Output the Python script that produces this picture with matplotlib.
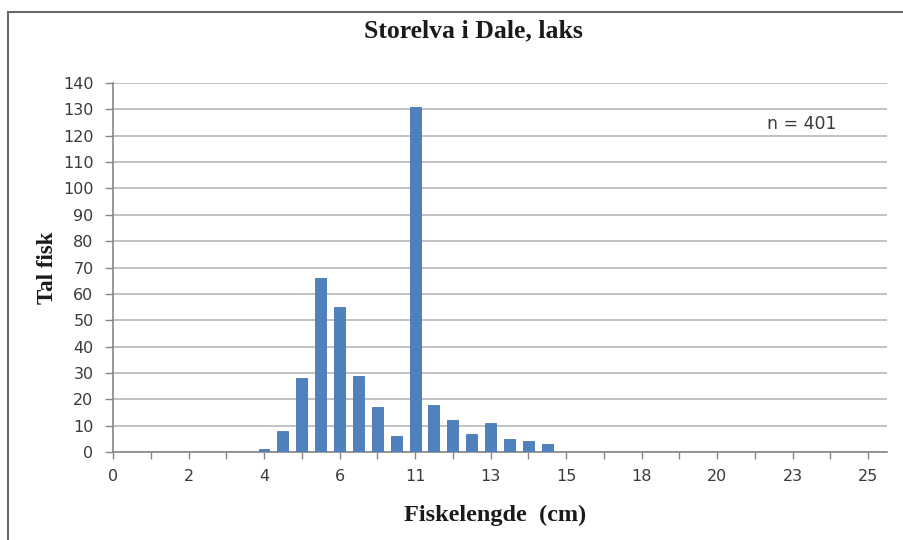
import numpy as np
import matplotlib.pyplot as plt
from matplotlib.patches import Rectangle

# ---------- data ----------
# one count per length class on the category axis (42 classes)
counts = [0, 0, 0, 0, 0, 0, 0, 0,
          1, 8, 28, 66, 55, 29, 17, 6,
          131, 18, 12, 7, 11, 5, 4, 3,
          0, 0, 0, 0, 0, 0, 0, 0,
          0, 0, 0, 0, 0, 0, 0, 0,
          0, 0]
tick_labels = ["0", "2", "4", "6", "11", "13", "15", "18", "20", "23", "25"]
y_ticks = list(range(0, 141, 10))
n_text = "n = 401"

# ---------- theme ----------
BAR_CLR = "#4f81bd"
GRID_CLR = "#b0b0b0"
AXIS_CLR = "#868686"
TXT_CLR = "#3a3a3a"
SERIF = "Liberation Serif"
SANS = "DejaVu Sans"

fig = plt.figure(figsize=(9.04, 5.4), dpi=100)
ax = fig.add_axes([113/904, 1-452/540, (887-113)/904, (452-83)/540])

x = np.arange(len(counts))
ax.bar(x, counts, width=0.58, color=BAR_CLR, edgecolor="#4577b3", linewidth=0.6, zorder=3)

ax.set_xlim(0, len(counts) - 1)
ax.set_ylim(0, 140)

# category axis: tick every 2 classes, label every 4
ax.set_xticks(x[::2], minor=True)
ax.set_xticks(x[::4][:len(tick_labels)])
ax.set_xticklabels(tick_labels)
ax.set_yticks(y_ticks)

ax.grid(axis="y", color=GRID_CLR, linewidth=1.1, zorder=0)
ax.set_axisbelow(True)
for side in ["top", "right"]:
    ax.spines[side].set_visible(False)
for side in ["left", "bottom"]:
    ax.spines[side].set_color(AXIS_CLR)
    ax.spines[side].set_linewidth(1.2)

ax.tick_params(axis="y", which="major", length=6, width=1, color=AXIS_CLR,
               labelsize=11.5, labelcolor=TXT_CLR, pad=8)
ax.tick_params(axis="x", which="both", length=5, width=1, color=AXIS_CLR,
               labelsize=11.5, labelcolor=TXT_CLR, pad=7)
for lab in ax.get_xticklabels() + ax.get_yticklabels():
    lab.set_family(SANS)

# ---------- texts ----------
fig.text(473/904, 1-31/540, "Storelva i Dale, laks", ha="center", va="center",
         fontsize=18.5, fontweight="bold", family=SERIF, color="#1a1a1a")
fig.text(495/904, 1-515/540, "Fiskelengde  (cm)", ha="center", va="center",
         fontsize=17.5, fontweight="bold", family=SERIF, color="#1a1a1a")
fig.text(48/904, 1-268/540, "Tal fisk", ha="center", va="center", rotation=90,
         fontsize=16.5, fontweight="bold", family=SERIF, color="#1a1a1a")
fig.text(802/904, 1-124/540, n_text, ha="center", va="center",
         fontsize=12.5, family=SANS, color=TXT_CLR)

# chart border (extends past right/bottom edge like the source crop)
fig.patches.append(Rectangle((8/904, -0.2), 1.2, 1-12/540+0.2, transform=fig.transFigure,
                             fill=False, edgecolor="#6a6a6a", linewidth=1.5))

fig.savefig("out.png", dpi=100, facecolor="white")
